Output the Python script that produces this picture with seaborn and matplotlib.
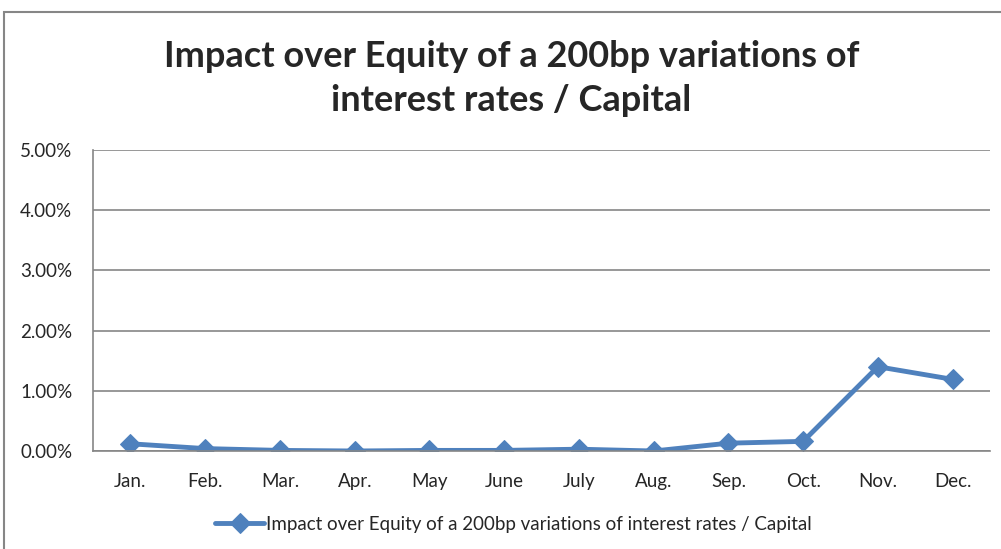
import matplotlib
matplotlib.use("Agg")
import matplotlib.pyplot as plt
import seaborn as sns
import pandas as pd
from matplotlib.patches import Rectangle
from matplotlib.ticker import PercentFormatter

# Dados
meses = ['Jan.', 'Feb.', 'Mar.', 'Apr.', 'May', 'June', 'July', 'Aug.', 'Sep.', 'Oct.', 'Nov.', 'Dec.']
impacto = [0.12, 0.04, 0.01, 0.00, 0.01, 0.01, 0.03, 0.00, 0.13, 0.16, 1.40, 1.19]
serie = 'Impact over Equity of a 200bp variations of interest rates / Capital'
titulo = 'Impact over Equity of a 200bp variations of\ninterest rates / Capital'
y_ticks = [0, 1, 2, 3, 4, 5]

df = pd.DataFrame({'mes': meses, 'valor': impacto})

sns.set_style('white')
plt.rcParams['font.family'] = ['Lato', 'DejaVu Sans']

cor = '#4F81BD'
cinza = '#868686'

fig = plt.figure(figsize=(10.01, 5.49), dpi=100)
ax = fig.add_axes([0.093, 0.1785, 0.896, 0.5483])

sns.lineplot(data=df, x='mes', y='valor', ax=ax, color=cor, linewidth=3.5,
             marker='D', markersize=10, markeredgecolor=cor, sort=False, label=serie)

ax.set_xlim(-0.5, len(meses) - 0.5)
ax.set_ylim(0, 5)
ax.set_yticks(y_ticks)
ax.yaxis.set_major_formatter(PercentFormatter(decimals=2))
ax.grid(axis='y', color=cinza, linewidth=1.2)
ax.set_xlabel('')
ax.set_ylabel('')
for s in ['top', 'right']:
    ax.spines[s].set_visible(False)
for s in ['left', 'bottom']:
    ax.spines[s].set_color(cinza)
    ax.spines[s].set_linewidth(1.2)
ax.tick_params(axis='y', length=5, color=cinza, labelsize=13.5, pad=10)
ax.tick_params(axis='x', length=0, labelsize=13.5, pad=16)

fig.text(0.511, 0.857, titulo, fontsize=26, fontweight='bold', ha='center', va='center',
         linespacing=1.38)

ax.get_legend().remove()
h, l = ax.get_legend_handles_labels()
fig.legend(h, l, loc='center', bbox_to_anchor=(0.513, 0.045), frameon=False,
           fontsize=13.5, handlelength=2.6, handletextpad=0.1)

# Moldura do gráfico
fig.patches.append(Rectangle((0.004, -0.02), 1.1, 0.998, transform=fig.transFigure,
                             fill=False, edgecolor=cinza, linewidth=1.5))

fig.savefig('out.png', dpi=100)
